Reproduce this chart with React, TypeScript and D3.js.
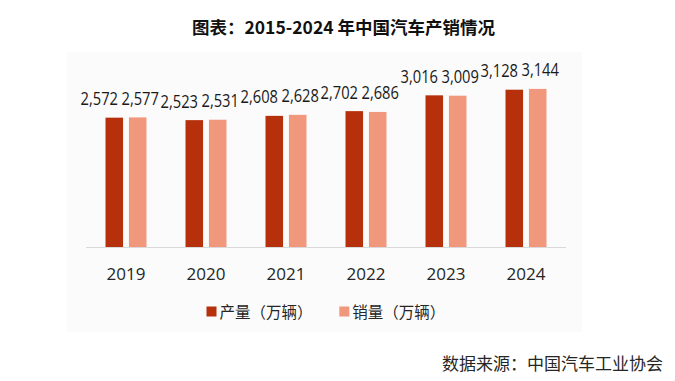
import React from "react";
import * as d3 from "d3";

const years = ["2019", "2020", "2021", "2022", "2023", "2024"];
const production = [2572, 2523, 2608, 2702, 3016, 3128];
const sales = [2577, 2531, 2628, 2686, 3009, 3144];
const seriesNames = ["产量（万辆）", "销量（万辆）"];
const seriesColors = ["#B5300B", "#F1977C"];
const title = "图表：2015-2024 年中国汽车产销情况";
const source = "数据来源：中国汽车工业协会";

export default function App() {
  const W = 675;
  const H = 381;
  const x = d3.scaleBand<string>().domain(years).range([86, 566]).paddingInner(0.5).paddingOuter(0.25);
  const x1 = d3.scaleBand<number>().domain([0, 1]).range([-0.5, x.bandwidth() + 0.5]).paddingInner(0.25);
  const y = d3.scaleLinear().domain([0, 3500]).range([247, 71]);
  const series = [production, sales];
  const labelDx = [-15, 2.5];
  const fmt = d3.format(",");
  const cjk = "'Noto Sans CJK SC', 'Open Sans', sans-serif";
  const latin = "'Open Sans', 'Noto Sans', sans-serif";

  return (
    <svg width={W} height={H} style={{ position: "absolute", left: 0, top: 0, background: "#fff" }}>
      <rect x={67} y={52} width={515} height={280} fill="#fbfbfb" />
      <text x={343.5} y={34} textAnchor="middle" fontFamily={cjk} fontWeight="bold" fontSize={17.5} fill="#111">
        {title}
      </text>
      <line x1={86} x2={566} y1={247.5} y2={247.5} stroke="#d9d9d9" strokeWidth={1} />
      {series.map((vals, si) =>
        vals.map((v, i) => {
          const bx = (x(years[i]) as number) + (x1(si) as number);
          return (
            <rect key={`b${si}-${i}`} x={bx} y={y(v)} width={x1.bandwidth()} height={y(0) - y(v)} fill={seriesColors[si]} />
          );
        })
      )}
      {series.map((vals, si) =>
        vals.map((v, i) => {
          const cx = (x(years[i]) as number) + (x1(si) as number) + x1.bandwidth() / 2 + labelDx[si];
          return (
            <text
              key={`l${si}-${i}`}
              transform={`translate(${cx},${y(v) - 12.5}) scale(0.84,1)`}
              textAnchor="middle"
              fontFamily={latin}
              fontSize={17.5}
              fill="#1a1a1a"
            >
              {fmt(v)}
            </text>
          );
        })
      )}
      {years.map((yr) => (
        <text
          key={yr}
          x={(x(yr) as number) + x.bandwidth() / 2}
          y={279.5}
          textAnchor="middle"
          fontFamily={latin}
          fontSize={17}
          fill="#262626"
        >
          {yr}
        </text>
      ))}
      {seriesNames.map((name, si) => {
        const lx = [206.5, 339.3][si];
        return (
          <g key={name}>
            <rect x={lx} y={306.5} width={10} height={10} fill={seriesColors[si]} />
            <text x={lx + 13} y={317.5} fontFamily={cjk} fontSize={15.5} fill="#262626">
              {name}
            </text>
          </g>
        );
      })}
      <text x={663} y={370} textAnchor="end" fontFamily={cjk} fontSize={17} fill="#262626">
        {source}
      </text>
    </svg>
  );
}
